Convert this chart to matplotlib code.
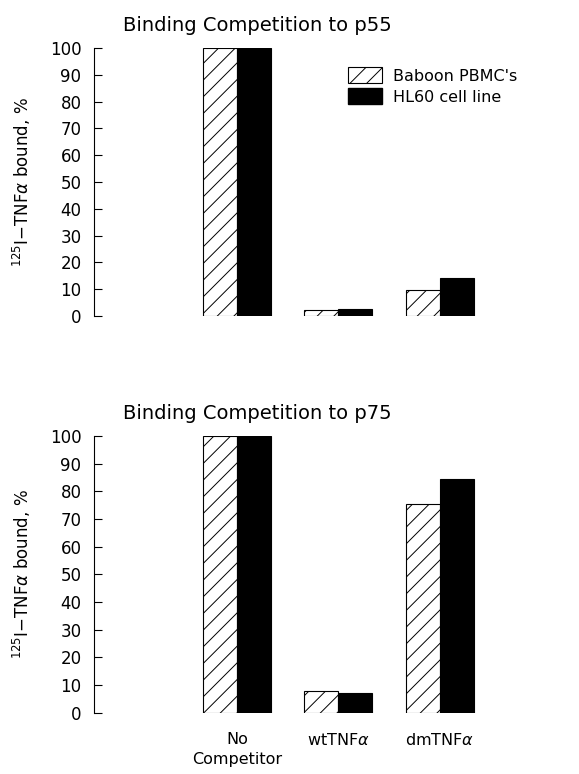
import matplotlib.pyplot as plt
import numpy as np
from matplotlib.patches import Patch

plt.rcParams['hatch.linewidth'] = 0.7

groups = ['No\nCompetitor', 'wtTNF$\\alpha$', 'dmTNF$\\alpha$']
series = ["Baboon PBMC's", 'HL60 cell line']
p55_baboon = [100, 2.2, 9.7]
p55_hl60 = [100, 2.7, 14]
p75_baboon = [100, 7.8, 75.3]
p75_hl60 = [100, 7.2, 84.3]

fig = plt.figure(figsize=(5.79, 7.74), dpi=100)
ax1 = fig.add_axes([0.1623, 0.5917, 0.72, 0.3463])
ax2 = fig.add_axes([0.1623, 0.0792, 0.72, 0.3575])

x = np.arange(len(groups))
w = 0.335

def draw(ax, a, b, title, show_x):
    ax.bar(x - w / 2, a, w, facecolor='white', edgecolor='black', hatch='//', linewidth=0.8)
    ax.bar(x + w / 2, b, w, color='black', edgecolor='black', linewidth=0.8)
    ax.set_xlim(-1.41, 2.7)
    ax.set_ylim(0, 100)
    ax.set_yticks(range(0, 101, 10))
    for s in ['top', 'right', 'bottom']:
        ax.spines[s].set_visible(False)
    ax.spines['left'].set_linewidth(0.8)
    ax.tick_params(axis='y', direction='in', length=6, width=0.8, pad=9, labelsize=12)
    ax.set_xticks(x)
    if show_x:
        ax.set_xticklabels(groups, fontsize=11.5, linespacing=1.4)
        ax.tick_params(axis='x', length=0, pad=14)
    else:
        ax.tick_params(axis='x', length=0, labelbottom=False)
    ax.set_ylabel('$^{125}$I$-$TNF$\\alpha$ bound, %', fontsize=12, labelpad=12)
    fig.text(0.444, ax.get_position().y1 + 0.029, title, ha='center', va='center', fontsize=14)

draw(ax1, p55_baboon, p55_hl60, 'Binding Competition to p55', False)
draw(ax2, p75_baboon, p75_hl60, 'Binding Competition to p75', True)

handles = [Patch(facecolor='white', edgecolor='black', hatch='//', linewidth=0.8),
           Patch(facecolor='black', edgecolor='black')]
ax1.legend(handles, series, loc='upper left', bbox_to_anchor=(0.601, 0.913),
           bbox_transform=fig.transFigure, frameon=False, fontsize=11.5,
           handlelength=2.1, handleheight=1.15, handletextpad=0.75, labelspacing=0.3,
           borderpad=0, borderaxespad=0)

fig.savefig('out.png', dpi=100)
